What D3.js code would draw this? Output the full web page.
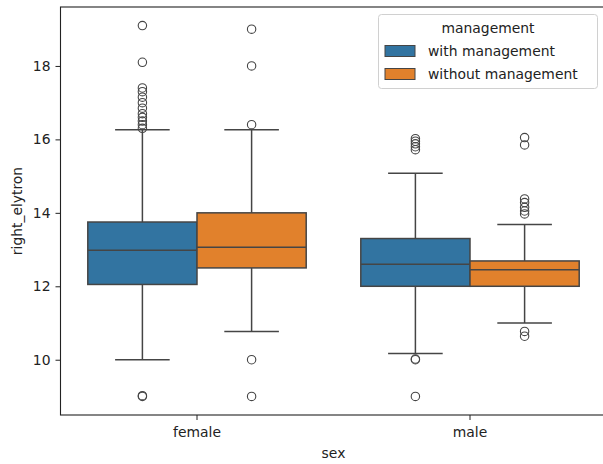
<!DOCTYPE html>
<html><head><meta charset="utf-8">
<script src="https://cdn.jsdelivr.net/npm/d3@7"></script>
<style>body{margin:0;background:#fff;} text{font-family:"DejaVu Sans",sans-serif;}</style>
</head><body><svg id="c" width="603" height="464"></svg>
<script>
const categories = ["female", "male"];
const hues = ["with management", "without management"];
const colors = ["#3274a1", "#e1812c"];
const yTicks = [10, 12, 14, 16, 18];
// box stats per [category][hue]: q1, median, q3, whisker low, whisker high
const q1 = [[12.05, 12.5], [12.0, 12.0]];
const med = [[12.98, 13.06], [12.6, 12.45]];
const q3 = [[13.75, 14.0], [13.3, 12.69]];
const wLo = [[10.0, 10.77], [10.17, 11.0]];
const wHi = [[16.26, 16.26], [15.08, 13.68]];
const outliers = [
  [[19.1, 18.1, 17.4, 17.3, 17.15, 17.0, 16.85, 16.7, 16.6, 16.5, 16.4, 16.3, 9.0, 9.02],
   [19.0, 18.0, 16.4, 10.0, 9.0]],
  [[16.02, 15.95, 15.88, 15.8, 15.72, 10.0, 10.02, 9.0],
   [16.05, 15.85, 14.38, 14.28, 14.15, 14.05, 13.97, 10.77, 10.64]]
];

const svg = d3.select("#c");
const L = 60.5, R = 606.5, T = 7, B = 415;
const x = d3.scaleBand().domain(categories).range([L, R]).paddingInner(0).paddingOuter(0);
const xh = d3.scaleBand().domain(hues).range([0, x.bandwidth() * 0.8]);
const y = d3.scaleLinear().domain([8.495, 19.605]).range([B, T]);
const gray = "#454545";

// axes
const ya = svg.append("g").attr("transform", `translate(${L},0)`)
  .call(d3.axisLeft(y).tickValues(yTicks).tickSize(5).tickPadding(5).tickFormat(d3.format("d")));
const xa = svg.append("g").attr("transform", `translate(0,${B})`)
  .call(d3.axisBottom(x).tickSize(5).tickPadding(4));
[ya, xa].forEach(a => {
  a.select(".domain").remove();
  a.selectAll("text").attr("font-size", 13.9).attr("fill", "#222").attr("font-family", "DejaVu Sans");
  a.selectAll("line").attr("stroke", "#222");
});
xa.selectAll("text").attr("dy", "0.9em");

// boxes
categories.forEach((c, ci) => {
  hues.forEach((h, hi) => {
    const x0 = x(c) + x.bandwidth() * 0.1 + xh(h);
    const w = xh.bandwidth();
    const cx = x0 + w / 2;
    const g = svg.append("g");
    g.append("line").attr("x1", cx).attr("x2", cx).attr("y1", y(q3[ci][hi])).attr("y2", y(wHi[ci][hi]))
      .attr("stroke", gray).attr("stroke-width", 1.5);
    g.append("line").attr("x1", cx).attr("x2", cx).attr("y1", y(q1[ci][hi])).attr("y2", y(wLo[ci][hi]))
      .attr("stroke", gray).attr("stroke-width", 1.5);
    [wHi[ci][hi], wLo[ci][hi]].forEach(v => {
      g.append("line").attr("x1", cx - w / 4).attr("x2", cx + w / 4).attr("y1", y(v)).attr("y2", y(v))
        .attr("stroke", gray).attr("stroke-width", 1.5);
    });
    g.append("rect").attr("x", x0).attr("width", w).attr("y", y(q3[ci][hi]))
      .attr("height", y(q1[ci][hi]) - y(q3[ci][hi]))
      .attr("fill", colors[hi]).attr("stroke", gray).attr("stroke-width", 1.5);
    g.append("line").attr("x1", x0).attr("x2", x0 + w).attr("y1", y(med[ci][hi])).attr("y2", y(med[ci][hi]))
      .attr("stroke", gray).attr("stroke-width", 1.5);
    g.selectAll("circle.o").data(outliers[ci][hi]).join("circle")
      .attr("cx", cx).attr("cy", d => y(d)).attr("r", 4.2)
      .attr("fill", "none").attr("stroke", gray).attr("stroke-width", 1.1);
  });
});

// spines
svg.append("rect").attr("x", L).attr("y", T).attr("width", R - L).attr("height", B - T)
  .attr("fill", "none").attr("stroke", "#222").attr("stroke-width", 1.1);

// labels
svg.append("text").attr("x", (L + R) / 2).attr("y", 458).attr("text-anchor", "middle")
  .attr("font-size", 13.9).attr("fill", "#222").text("sex");
svg.append("text").attr("transform", `translate(22,${(T + B) / 2}) rotate(-90)`).attr("text-anchor", "middle")
  .attr("font-size", 13.9).attr("fill", "#222").text("right_elytron");

// legend
const lg = svg.append("g");
lg.append("rect").attr("x", 378.5).attr("y", 14.5).attr("width", 219).attr("height", 74).attr("rx", 3)
  .attr("fill", "#fff").attr("fill-opacity", 0.8).attr("stroke", "#d0d0d0");
lg.append("text").attr("x", 488).attr("y", 33).attr("text-anchor", "middle")
  .attr("font-size", 13.9).attr("fill", "#222").text("management");
hues.forEach((h, i) => {
  lg.append("rect").attr("x", 385).attr("y", 45.5 + i * 23).attr("width", 30).attr("height", 11)
    .attr("fill", colors[i]).attr("stroke", gray).attr("stroke-width", 1);
  lg.append("text").attr("x", 428).attr("y", 56 + i * 23).attr("font-size", 13.9).attr("fill", "#222").text(h);
});
</script></body></html>
